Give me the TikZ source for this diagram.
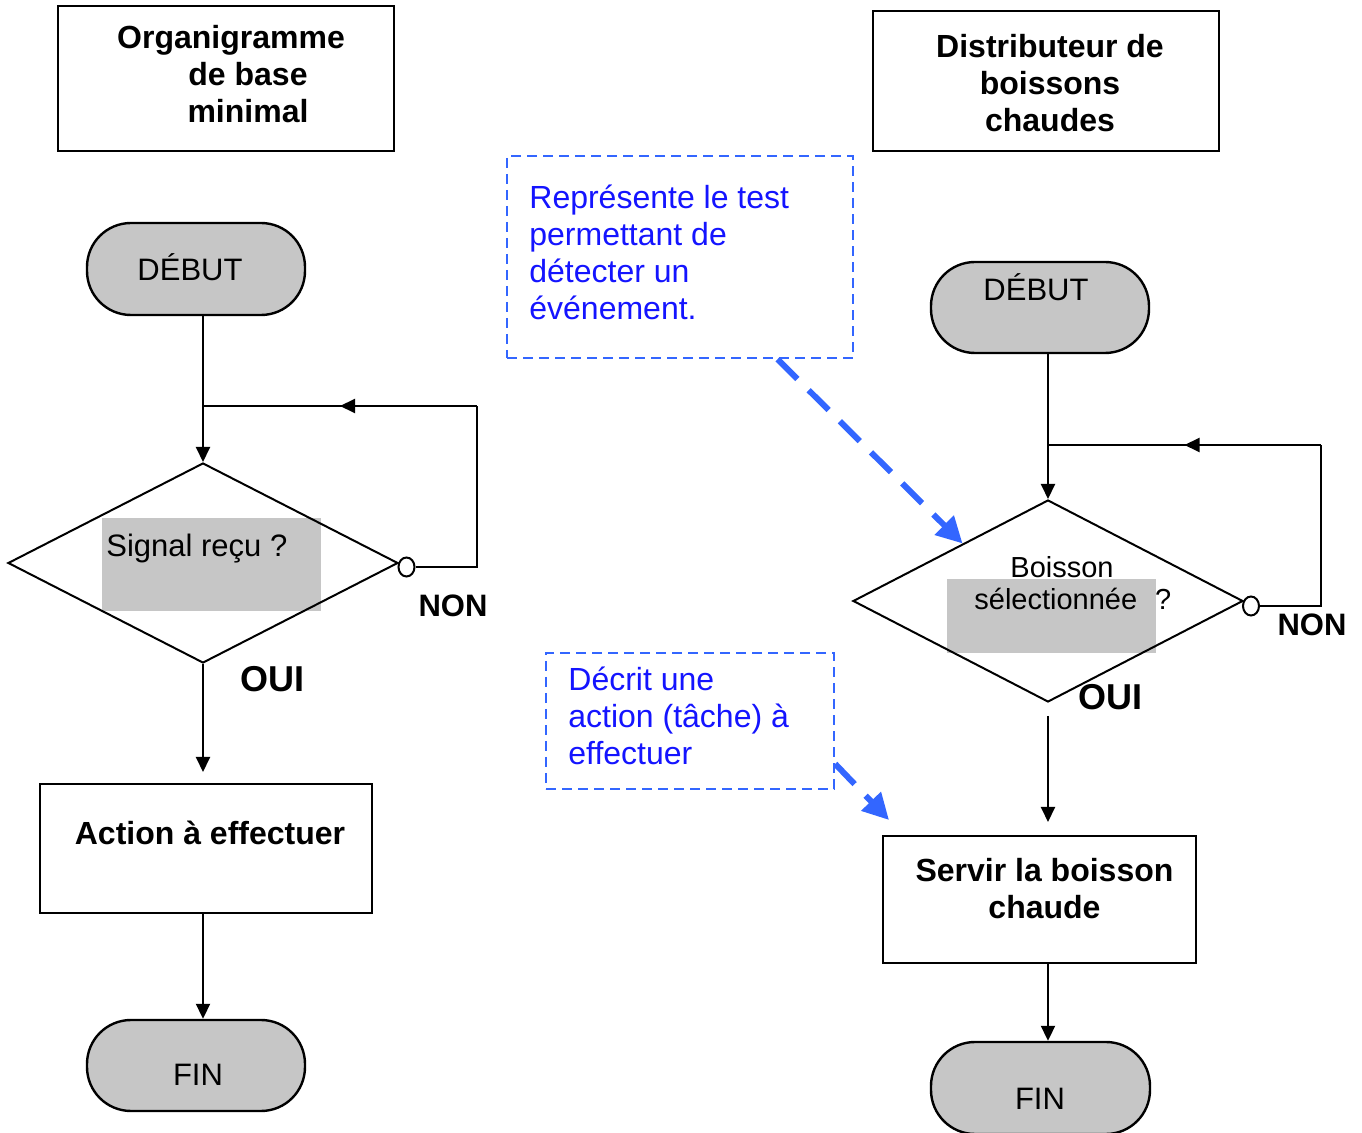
\documentclass[tikz,border=0pt]{standalone}
\usepackage{fontspec}
\setmainfont{Liberation Sans}
\usetikzlibrary{shapes.geometric,arrows.meta,calc,decorations.markings}
\definecolor{notefg}{RGB}{20,20,255}
\definecolor{noteline}{RGB}{51,102,255}
\definecolor{shade}{RGB}{198,198,198}
% multi-line text whose baseline is the first line
\newcommand\linesc[1]{\begin{tabular}[t]{@{}c@{}}#1\end{tabular}}
\newcommand\linesl[1]{\begin{tabular}[t]{@{}l@{}}#1\end{tabular}}

\begin{document}
\begin{tikzpicture}[x=0.5pt,y=-0.5pt,
  box/.style={draw, line width=1pt, inner sep=0pt},
  terminal/.style={draw, line width=1.2pt, fill=shade, rounded corners=22pt, inner sep=0pt},
  decision/.style={draw, diamond, line width=1pt, inner sep=0pt, minimum width=195pt},
  shadebox/.style={fill=shade, inner sep=0pt},
  flow/.style={line width=1pt, -{Triangle[length=7.5pt,width=7pt]}},
  loopline/.style={line width=1pt},
  midarrow/.style={postaction={decorate}, decoration={markings,
      mark=at position 0.5 with {\arrow{Triangle[length=7.5pt,width=7pt]}}}},
  port/.style={draw, ellipse, line width=1pt, fill=white, inner sep=0pt,
      minimum width=8pt, minimum height=9.5pt},
  note/.style={draw=noteline, dash pattern=on 5pt off 3pt, line width=1.2pt, inner sep=0pt},
  notetext/.style={text=notefg, font=\fontsize{16}{18.5}\selectfont, inner sep=0pt, anchor=base west},
  pointer/.style={noteline, line width=3pt, dash pattern=on 14pt off 8pt,
      -{Triangle[length=13pt,width=13pt]}},
  heading/.style={font=\bfseries\fontsize{16}{18.5}\selectfont, inner sep=0pt, anchor=base},
  label/.style={font=\fontsize{15.5}{18}\selectfont, inner sep=0pt, anchor=base},
  small/.style={font=\fontsize{14.5}{17}\selectfont, inner sep=0pt, anchor=base},
  answer/.style={font=\bfseries\fontsize{15.5}{18}\selectfont, inner sep=0pt, anchor=base},
  bigans/.style={font=\bfseries\fontsize{18}{21}\selectfont, inner sep=0pt, anchor=base},
]
\useasboundingbox (0,0) rectangle (1362,1133);

% ---------- basic flowchart ----------
\node[box, minimum width=168pt, minimum height=72.5pt] (t1) at (226,78.5) {};
\node[heading] (t1txt) at (231,49)
  {\linesc{Organigramme\\\hspace*{17pt}de base\\\hspace*{17pt}minimal}};

\node[terminal, minimum width=109pt, minimum height=46pt] (start1) at (196,269) {};
\node[label] (start1txt) at (190,281) {DÉBUT};

\node[shadebox, minimum width=109.5pt, minimum height=46.5pt] (shade1) at (211.5,564.5) {};
\node[decision, minimum height=100pt] (dec1) at (203,563) {};
\node[label, anchor=base west] (q1) at (106,557) {Signal reçu ?};
\node[port] (port1) at (406.5,567) {};
\node[answer] (no1) at (453,617) {NON};
\node[bigans] (yes1) at (272,692) {OUI};

\node[box, minimum width=166pt, minimum height=64.5pt] (act1) at (206,848.5) {};
\node[heading] (act1txt) at (210,845) {Action à effectuer};

\node[terminal, minimum width=109pt, minimum height=45.5pt] (end1) at (196,1065.5) {};
\node[label] (end1txt) at (198,1086) {FIN};

\coordinate (back1) at (477,406);
\draw[flow] (start1.south -| dec1.north) -- (dec1.north);
\draw[loopline] (port1.east) -| (back1);
\draw[loopline, midarrow] (back1) -- (back1 -| dec1.north);
\draw[flow, shorten >=5.5pt] (dec1.south) -- (dec1.south |- act1.north);
\draw[flow] (act1.south -| dec1.south) -- (end1.north -| dec1.south);

% ---------- hot drinks dispenser ----------
\node[box, minimum width=173pt, minimum height=70pt] (t2) at (1046,81) {};
\node[heading] (t2txt) at (1050,58)
  {\linesc{Distributeur de\\boissons\\chaudes}};

\node[note, minimum width=173pt, minimum height=101pt] (note1) at (680,257) {};
\node[notetext] (note1txt) at (529,209)
  {\linesl{Représente le test\\permettant de\\détecter un\\événement.}};

\node[note, minimum width=144pt, minimum height=68pt] (note2) at (690,721) {};
\node[notetext] (note2txt) at (568,691)
  {\linesl{Décrit une\\action (tâche) à\\effectuer}};

\node[terminal, minimum width=109pt, minimum height=45.5pt] (start2) at (1040,307.5) {};
\node[label] (start2txt) at (1036,301) {DÉBUT};

\node[shadebox, minimum width=104.5pt, minimum height=37pt] (shade2) at (1051.5,616) {};
\node[decision, minimum height=101pt] (dec2) at (1048,601) {};
\node[small] (q2a) at (1062,578) {Boisson};
\node[small, anchor=base west] (q2b) at (974,610) {sélectionnée\hspace*{9pt}?};
\node[port] (port2) at (1251,606) {};
\node[answer] (no2) at (1312,636) {NON};
\node[bigans] (yes2) at (1110,710) {OUI};

\node[box, minimum width=156.5pt, minimum height=63.5pt] (serve) at (1039.5,899.5) {};
\node[heading] (servetxt) at (1044.5,882) {\linesc{Servir la boisson\\chaude}};

\node[terminal, minimum width=109.5pt, minimum height=46pt] (end2) at (1040.5,1088) {};
\node[label] (end2txt) at (1040,1109) {FIN};

\coordinate (back2) at (1321,445);
\draw[flow] (start2.south -| dec2.north) -- (dec2.north);
\draw[loopline] (port2.east) -| (back2);
\draw[loopline, midarrow] (back2) -- (back2 -| dec2.north);
\draw[flow, shorten <=6.5pt, shorten >=6.5pt] (dec2.south) -- (dec2.south |- serve.north);
\draw[flow] (serve.south -| dec2.south) -- (end2.north -| dec2.south);

% explanatory pointers
\coordinate (aim) at ($(serve.north west)+(7,-15)$);
\draw[pointer] ($(note1.south west)!0.78!(note1.south east)$) -- ($(dec2.west)!0.564!(dec2.north)$);
\draw[pointer] ($(note2.north east)!0.81!(note2.south east)$) -- (aim);
\end{tikzpicture}
\end{document}
